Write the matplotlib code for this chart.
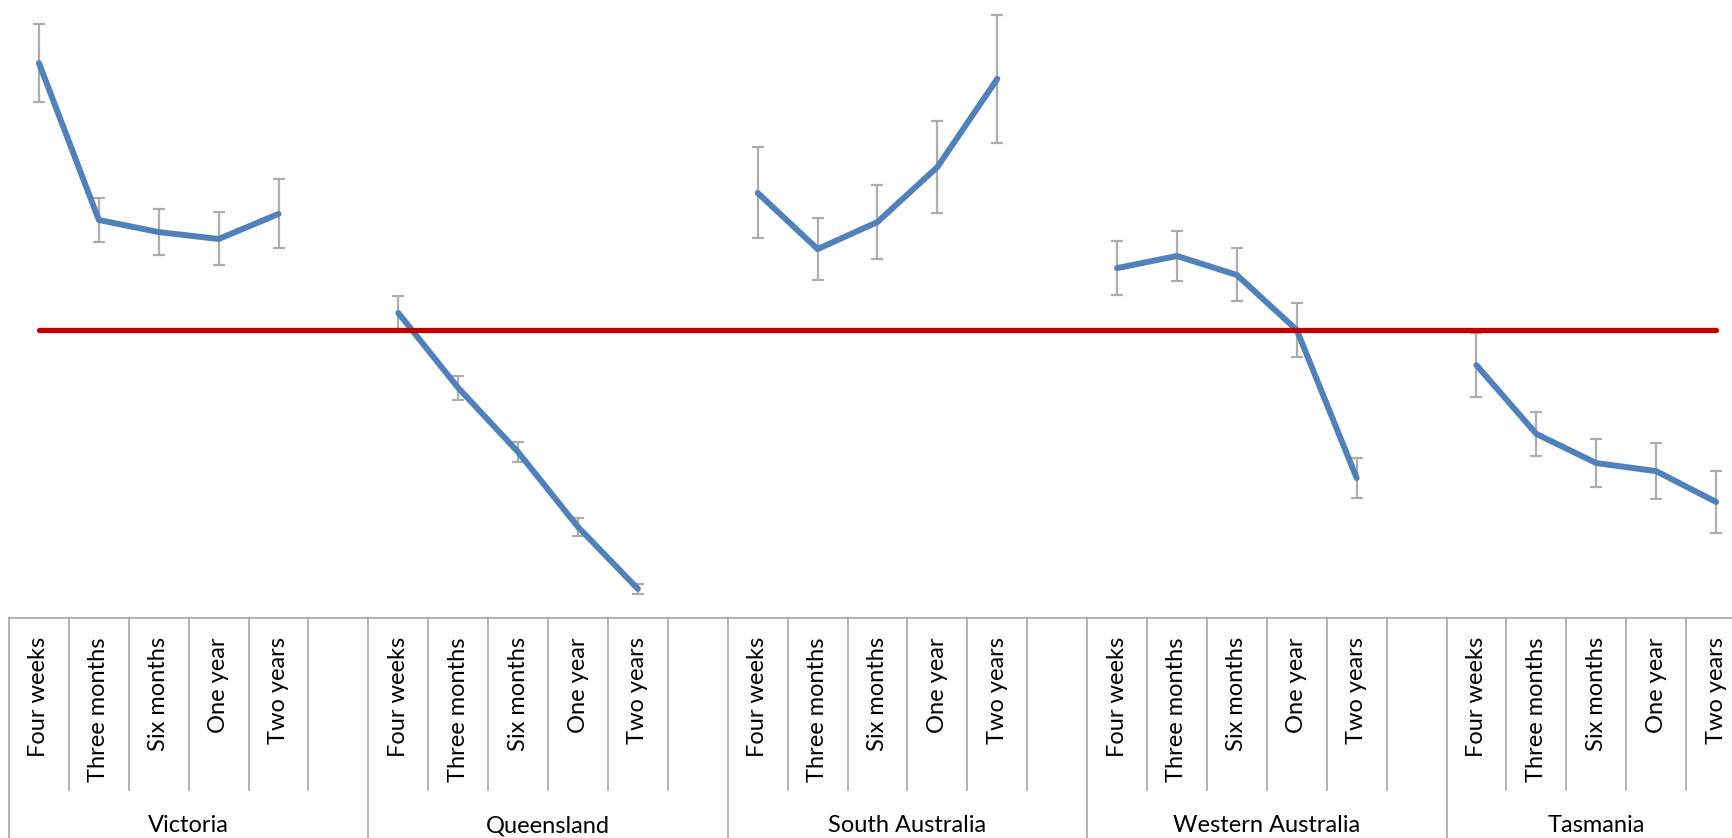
import matplotlib
matplotlib.use("Agg")
import matplotlib.pyplot as plt
import matplotlib.transforms as mtransforms
import numpy as np

plt.rcParams['font.family'] = ['Lato', 'DejaVu Sans']

periods = ['Four weeks', 'Three months', 'Six months', 'One year', 'Two years']
states = ['Victoria', 'Queensland', 'South Australia', 'Western Australia', 'Tasmania']

# ratio to reference, per state, one value per follow-up period
vic = [1.927, 1.382, 1.340, 1.316, 1.403]
qld = [1.059, 0.799, 0.576, 0.316, 0.101]
sa = [1.476, 1.281, 1.375, 1.566, 1.872]
wa = [1.215, 1.257, 1.191, 1.000, 0.486]
tas = [0.878, 0.639, 0.538, 0.510, 0.403]

vic_err = [0.135, 0.075, 0.080, 0.092, 0.120]
qld_err = [0.059, 0.042, 0.036, 0.030, 0.017]
sa_err = [0.158, 0.109, 0.127, 0.160, 0.222]
wa_err = [0.095, 0.087, 0.092, 0.094, 0.071]
tas_err = [0.111, 0.078, 0.082, 0.097, 0.108]

reference = 1.0

# lay the groups out on one category axis with an empty slot between states
vals, errs, labels = [], [], []
groups = [vic, qld, sa, wa, tas]
group_errs = [vic_err, qld_err, sa_err, wa_err, tas_err]
for k, (g, e) in enumerate(zip(groups, group_errs)):
    vals += g
    errs += e
    labels += periods
    if k < len(groups) - 1:
        vals.append(np.nan)
        errs.append(np.nan)
        labels.append('')
vals = np.array(vals)
errs = np.array(errs)
x = np.arange(len(vals))

W, H = 1733, 838
fig = plt.figure(figsize=(W / 100, H / 100), dpi=100)
ax_bottom = 618
ax_left = 9
ax_right = 1746
ymax = 2.15
px_per_unit = 288
ax = fig.add_axes([ax_left / W, (H - ax_bottom) / H,
                   (ax_right - ax_left) / W, ymax * px_per_unit / H])

blue = '#4F81BD'
red = '#C00000'
grey = '#ADADAD'

ax.errorbar(x, vals, yerr=errs, fmt='none', ecolor=grey, elinewidth=1.6,
            capsize=4.3, capthick=1.6, zorder=2)
ax.plot(x, vals, color=blue, lw=4.3, solid_capstyle='round',
        solid_joinstyle='round', zorder=3)
ax.plot(x, np.full(len(x), reference), color=red, lw=3.8,
        solid_capstyle='round', zorder=4)

ax.set_xlim(-0.5, len(x) - 0.5)
ax.set_ylim(0, ymax)
for side in ['left', 'right', 'top']:
    ax.spines[side].set_visible(False)
ax.spines['bottom'].set_color(grey)
ax.spines['bottom'].set_linewidth(1.3)
ax.set_xticks([])
ax.set_yticks([])

# two-level category axis drawn underneath
trans = mtransforms.blended_transform_factory(ax.transData, fig.transFigure)
y_axis = (H - ax_bottom) / H
y_short = (H - 790) / H
starts = [0, 6, 12, 18, 24]
group_edges = [s - 0.5 for s in starts] + [len(x) - 0.5]
for b in np.arange(len(x) + 1) - 0.5:
    low = 0 if b in group_edges else y_short
    ax.plot([b, b], [y_axis, low], color=grey, lw=1.3, transform=trans,
            clip_on=False, zorder=1)

for i, lab in enumerate(labels):
    if lab:
        ax.text(i, (H - 637) / H, lab, rotation=90, ha='center', va='top',
                fontsize=17, transform=trans)

for k, s in enumerate(starts):
    centre = (group_edges[k] + group_edges[k + 1]) / 2
    ax.text(centre, (H - 832) / H, states[k], ha='center', va='baseline',
            fontsize=17, transform=trans)

fig.savefig('out.png', dpi=100)
